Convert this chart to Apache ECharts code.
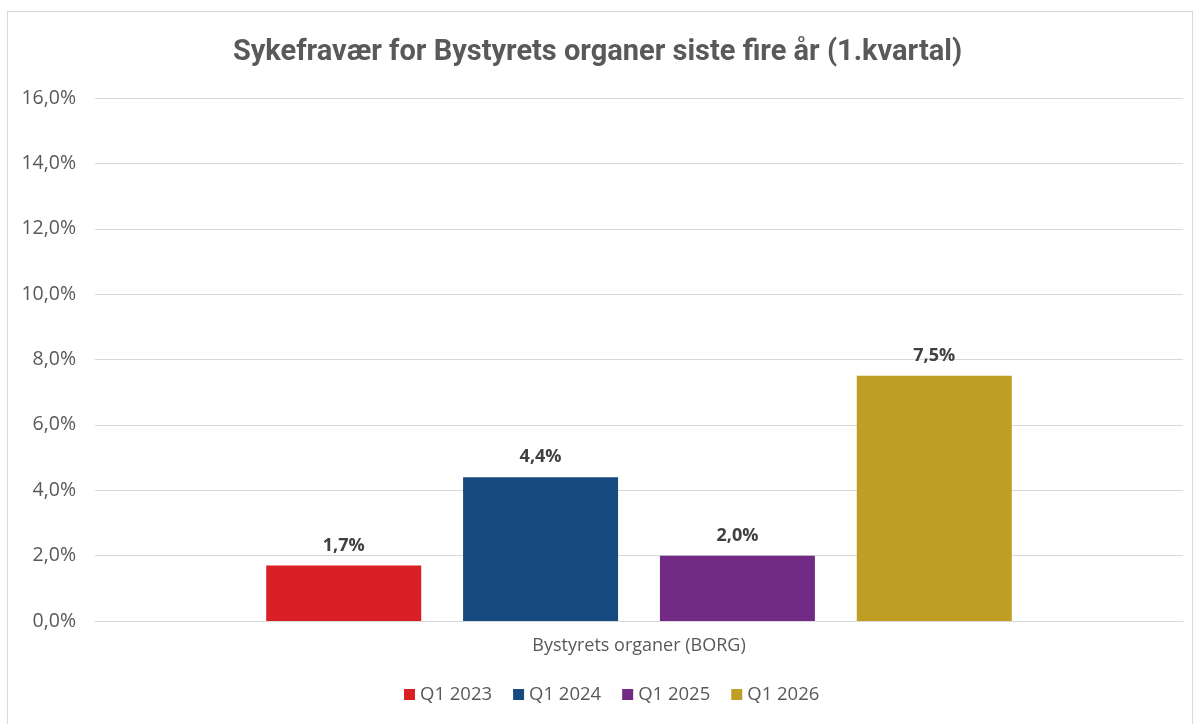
<!DOCTYPE html>
<html><head><meta charset="utf-8">
<script src="https://cdn.jsdelivr.net/npm/echarts@6/dist/echarts.min.js"></script>
<style>html,body{margin:0;padding:0;background:#fff}#c{width:1195px;height:724px}
#frame{position:absolute;left:7px;top:11px;width:1186px;height:720px;border:1px solid #d9d9d9;box-sizing:border-box;pointer-events:none}</style>
</head><body><div id="c"></div><div id="frame"></div>
<script>
const categories = ['Bystyrets organer (BORG)'];
const seriesNames = ['Q1 2023', 'Q1 2024', 'Q1 2025', 'Q1 2026'];
const seriesValues = [[1.7], [4.4], [2.0], [7.5]];
const colors = ['#DA1F26', '#174A7E', '#722B84', '#C09D25'];
const yTicks = { min: 0, max: 16, interval: 2 };

const chart = echarts.init(document.getElementById('c'));
const sans = '"Open Sans",Roboto,sans-serif';
chart.setOption({
  animation: false,
  textStyle: { fontFamily: sans },
  title: {
    text: 'Sykefravær for Bystyrets organer siste fire år (1.kvartal)',
    left: 'center', top: 33,
    textStyle: { fontSize: 29, fontWeight: 'bold', color: '#595959', fontFamily: 'Roboto' }
  },
  legend: {
    bottom: 15, left: 399,
    itemWidth: 11, itemHeight: 11, itemGap: 21,
    icon: 'rect',
    textStyle: { fontSize: 18.5, color: '#595959', fontFamily: sans },
    data: seriesNames
  },
  grid: { left: 95, right: 12, top: 98, bottom: 103, containLabel: false },
  xAxis: {
    type: 'category', data: categories,
    axisLine: { lineStyle: { color: '#d9d9d9' } },
    axisTick: { show: false },
    axisLabel: { color: '#595959', fontSize: 18, margin: 16, fontFamily: sans }
  },
  yAxis: {
    type: 'value', min: yTicks.min, max: yTicks.max, interval: yTicks.interval,
    axisLine: { show: false }, axisTick: { show: false },
    splitLine: { lineStyle: { color: '#d9d9d9' } },
    axisLabel: {
      color: '#595959', fontSize: 19.5, margin: 19, fontFamily: sans,
      formatter: v => v.toFixed(1).replace('.', ',') + '%'
    }
  },
  series: seriesNames.map((name, i) => ({
    name, type: 'bar', data: seriesValues[i],
    barWidth: 155, barGap: '27%',
    itemStyle: { color: colors[i] },
    label: {
      show: true, position: 'top', distance: 11,
      fontSize: 18, fontWeight: 'bold', color: '#404040', fontFamily: sans,
      formatter: p => p.value.toFixed(1).replace('.', ',') + '%'
    }
  }))
});
</script></body></html>
